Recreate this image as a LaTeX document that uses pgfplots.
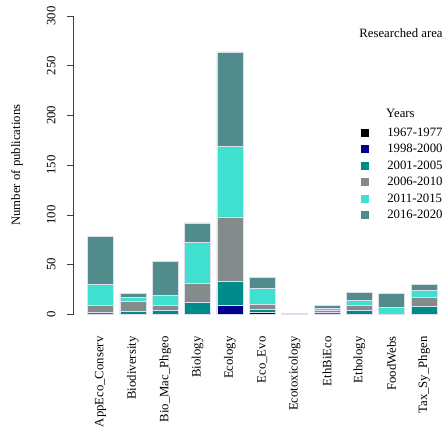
\documentclass[border=0pt]{standalone}
\usepackage{fontspec}
\setmainfont{Liberation Serif}
\usepackage{pgfplots}
\usepackage{pgfplotstable}
\pgfplotsset{compat=1.18}

% colours of the year groups
\definecolor{yA}{HTML}{000000}
\definecolor{yB}{HTML}{00008B}
\definecolor{yC}{HTML}{008B8B}
\definecolor{yD}{HTML}{838B8B}
\definecolor{yE}{HTML}{40E0D0}
\definecolor{yF}{HTML}{528B8B}
\definecolor{barEdge}{RGB}{222,222,238}

% small filled square as legend key
\pgfplotsset{
  sqlegend/.style={legend image code/.code={
    \path[##1, draw=none] (0bp,-4bp) rectangle (8bp,4bp);
    \path[draw=none, fill=none] (0bp,0bp) -- (26bp,0bp);
  }},
}

% publications per researched area (rows) and year group (columns)
% a: 1967-1977, b: 1998-2000, c: 2001-2005, d: 2006-2010, e: 2011-2015, f: 2016-2020
\pgfplotstableread{
x  a  b  c  d  e  f
0  0  0  2  7 21 48
1  0  0  3 10  4  4
2  0  0  4  5 10 34
3  0  0 12 19 41 20
4  0  9 24 65 71 95
5  0  2  3  5 16 11
6  0  0  0  0  0  1
7  0  0  2  2  2  3
8  0  0  4  5  5  8
9  0  0  0  0  7 14
10 0  0  8  9  7  6
}\pubs

\begin{document}
\begin{tikzpicture}[font=\fontsize{12.8}{15}\selectfont]
\useasboundingbox (-73.6bp,-112.7bp) rectangle (372.4bp,314.3bp);
\begin{axis}[
  at={(0,0)}, anchor=south west,
  scale only axis, width=372.4bp, height=298.3bp,
  xmin=-0.832, xmax=10.68, ymin=0, ymax=300,
  clip=false,
  axis y line*=left, axis x line*=bottom,
  x axis line style={draw=none},
  y axis line style={black!75, line width=0.6bp},
  ybar stacked, bar width=0.8,
  xtick={0,...,10},
  xticklabels={AppEco\_Conserv, Biodiversity, Bio\_Mac\_Phgeo, Biology, Ecology, Eco\_Evo, Ecotoxicology, EthBiEco, Ethology, FoodWebs, Tax\_Sy\_Phgen},
  xtick style={draw=none},
  xticklabel style={rotate=90, anchor=east, inner sep=0pt},
  xticklabel shift=15bp,
  ytick={0,50,...,300},
  tick align=outside,
  major tick length=7bp,
  ytick style={black!75, line width=0.6bp},
  yticklabel style={rotate=90, anchor=south, inner sep=0pt},
  yticklabel shift=11bp,
  /pgf/number format/assume math mode=true,
  every axis y label/.style={at={(axis description cs:-0.152,0.5)}, rotate=90, anchor=center},
  ylabel={Number of publications},
  legend style={draw=none, fill=none, at={(axis description cs:0.772,0.63)}, anchor=north west,
    inner sep=0pt, row sep=3.4bp,
    nodes={inner sep=0pt, text height=10bp, text depth=3bp}},
  legend cell align=left,
  every axis plot/.append style={draw=barEdge, line width=0.5bp},
  every axis plot post/.append style={sqlegend},
]
\addplot[fill=yA] table[x=x, y=a] {\pubs};
\addplot[fill=yB] table[x=x, y=b] {\pubs};
\addplot[fill=yC] table[x=x, y=c] {\pubs};
\addplot[fill=yD] table[x=x, y=d] {\pubs};
\addplot[fill=yE] table[x=x, y=e] {\pubs};
\addplot[fill=yF] table[x=x, y=f] {\pubs};
\legend{1967-1977, 1998-2000, 2001-2005, 2006-2010, 2011-2015, 2016-2020}
\node at (axis cs:9.29,282.9) {Researched area};
\node[anchor=west, inner sep=0pt] at (axis cs:8.825,202.4) {Years};
\end{axis}
\end{tikzpicture}
\end{document}
